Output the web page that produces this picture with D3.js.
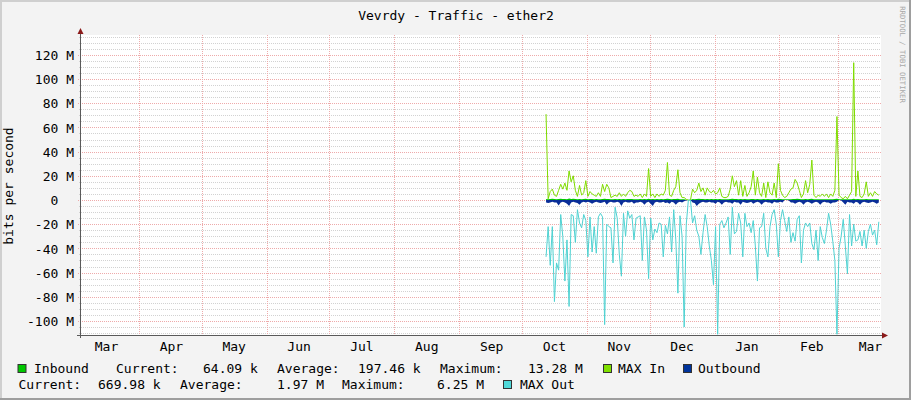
<!DOCTYPE html>
<html><head><meta charset="utf-8">
<script src="https://cdn.jsdelivr.net/npm/d3@7"></script>
<style>
html,body{margin:0;padding:0;background:#f3f3f3;}
svg{display:block;}
text{font-family:"DejaVu Sans Mono",monospace;}
</style>
</head><body>
<svg id="c" width="911" height="400"></svg>
<script>
// ---------------- data ----------------
const title = "Vevrdy - Traffic - ether2";
const yAxisTitle = "bits per second";
const watermark = "RRDTOOL / TOBI OETIKER";
const monthLabels = ["Mar","Apr","May","Jun","Jul","Aug","Sep","Oct","Nov","Dec","Jan","Feb","Mar"];
const yTickValues = [-100,-80,-60,-40,-20,0,20,40,60,80,100,120];
const yTickLabels = ["-100 M","-80 M","-60 M","-40 M","-20 M","0","20 M","40 M","60 M","80 M","100 M","120 M"];
const seriesNames = ["Inbound","MAX In","Outbound","MAX Out"];
const statLabels = ["Current:","Average:","Maximum:"];
const inboundStats = ["64.09 k","197.46 k","13.28 M"];
const outboundStats = ["669.98 k","1.97 M","6.25 M"];
const dataStart = "2014-10-12T12:00:00Z";   // one value per day from here
// values in Mbit/s
const maxIn = [
 71,1,7,9,4,3,8,13,9,14,8,24,15,20,8,3,12,4,6,16,
 3,7,5,4,3,6,3,13,7,13,10,2,3,4,3,6,3,5,3,6,
 8,7,3,4,3,5,2,5,3,26,3,5,2,5,3,5,4,8,31,4,
 3,8,11,25,6,2,2,0.5,0,0,9,6,8,14,7,10,4,10,7,6,
 8,5,6,10,3,2,2,3,9,20,11,16,4,16,3,12,3,6,11,24,
 4,19,6,3,14,2,15,6,4,14,2,30,8,4,2,3,6,9,10,17,
 14,8,2,5,16,6,13,33,4,2,4,3,5,3,5,2,5,3,8,69,
 4,2,1,3,1,4,7,113.5,3,24,3,2,5,15,3,6,3,7,5,4];
const maxOut = [
 -47,-22,-54,-22,-84,-52,-58,-12,-30,-67,-33,-88,-12,-13,-35,-8,-19,-23,-12,-17,
 -47,-14,-43,-22,-44,-14,-11,-14,-103,-20,-22,-23,-52,-6,-15,-45,-63,-11,-30,-9,
 -15,-12,-33,-15,-14,-13,-50,-14,-25,-65,-15,-33,-24,-27,-19,-20,-47,-21,-28,-14,
 -43,-8,-33,-77,-13,-30,-105,-20,0,0,-19,-13,-25,-30,-45,-27,-12,-22,-38,-50,
 -70,-22,-111,-20,-17,-23,-19,-14,-45,-6,-28,-26,-11,-19,-47,-11,-22,-19,-27,-17,
 -38,-67,-23,-22,-11,-40,-47,-22,-12,-8,-20,-47,-17,-8,-17,-26,-14,-35,-27,-34,
 -16,-13,-52,-25,-19,-22,-19,-36,-41,-25,-50,-22,-31,-36,-25,-11,-20,-34,-50,-111,
 -40,-30,-16,-38,-61,-12,-38,-20,-34,-33,-26,-38,-25,-40,-26,-20,-29,-25,-37,-18];
const outbound = [
 2,2.5,2,1.5,2,2,4.5,2,1.5,2,3,5,2,1.5,2,2.5,4,2,1.5,2,
 1.5,2,3,2,1.5,2,2.5,2,1.5,4,2,1.5,2,2,1.5,2,5,2,1.5,2,
 2,1.5,3,2,2,1.5,2,4,2,1.5,3,5,2,1.5,2,2,1.5,2.5,2,3,
 1.5,2,4,2,1.5,2,1,0.5,0,0,2,2.5,5,3,2,1.5,2,2,1.5,2,
 2,3,1.5,2,4,2,1.5,2,2,3,1.5,2,2,4,1.5,2,2.5,2,1.5,3,
 2,1.5,2,4,2,1.5,2,2,3,1.5,2,2,1.5,2,0,0,0.5,2,2,3,
 2,1.5,2,4,2,1.5,2,3,2,1.5,2,4,2,1.5,2,2,3,2,2,1.5,
 0,0.5,2,4,1.5,2,2,3,1.5,2,4,2,1.5,2,2.5,2,1.5,2,3,2];
const inbound = [
 0.8,0.6,0.8,1,0.8,0.6,0.8,1,0.8,0.8,0.6,1.2,0.8,1,0.8,0.6,0.8,0.6,0.8,1,
 0.6,0.8,0.8,0.6,0.8,0.6,0.6,0.8,1,0.8,0.8,0.6,0.6,0.8,0.6,0.8,0.6,0.8,0.6,0.8,
 0.8,0.8,0.6,0.6,0.6,0.8,0.6,0.8,0.6,1,0.6,0.8,0.6,0.8,0.6,0.8,0.6,0.8,1,0.8,
 0.6,0.8,0.8,1,0.6,0.6,0.6,0.2,0,0,0.8,0.6,0.8,1,0.8,0.8,0.6,0.8,0.6,0.8,
 0.6,0.8,0.6,0.8,0.6,0.6,0.6,0.6,0.8,1,0.8,0.8,0.6,0.8,0.6,0.8,0.6,0.6,0.8,0.8,
 0.6,0.8,0.6,0.6,0.8,0.6,0.8,0.6,0.6,0.8,0.6,1,0.8,0.6,0.6,0.6,0.6,0.6,0.8,0.8,
 1,0.8,0.6,0.6,0.8,0.6,0.8,1,0.6,0.6,0.6,0.6,0.6,0.6,0.6,0.6,0.6,0.6,0.8,1,
 0.6,0.6,0.6,0.6,0.6,0.6,0.6,1,0.6,0.8,0.6,0.6,0.6,0.8,0.6,0.6,0.6,0.6,0.6,0.6];

// ---------------- layout ----------------
const W = 911, H = 400;
const PL = 81, PR = 881, PT = 35, PB = 335;
const colors = {inbound:"#00c800", maxIn:"#7fdc00", outbound:"#0a2e98", maxOut:"#4fd2d2"};
const boxColors = ["#00c800","#80e000","#00349c","#50d8d8"];

const svg = d3.select("#c");

// background + 3D border
svg.append("rect").attr("width",W).attr("height",H).attr("fill","#f3f3f3");
svg.append("rect").attr("x",0).attr("y",0).attr("width",W).attr("height",2).attr("fill","#cfcfcf");
svg.append("rect").attr("x",0).attr("y",0).attr("width",2).attr("height",H).attr("fill","#cfcfcf");
svg.append("rect").attr("x",0).attr("y",H-2).attr("width",W).attr("height",2).attr("fill","#9e9e9e");
svg.append("rect").attr("x",W-2).attr("y",0).attr("width",2).attr("height",H).attr("fill","#9e9e9e");

// plot canvas
svg.append("rect").attr("x",PL).attr("y",PT).attr("width",PR-PL).attr("height",PB-PT).attr("fill","#ffffff");

const x = d3.scaleUtc()
  .domain([new Date("2014-03-04T07:00:00Z"), new Date("2015-03-21T13:00:00Z")])
  .range([PL, PR]);
const y = d3.scaleLinear().domain([-111.6, 136.4]).range([PB, PT]);

// grid
const grid = svg.append("g");
const minorVals = d3.range(-110, 136, 5).filter(v => v % 20 !== 0);
grid.selectAll("line.minor").data(minorVals).join("line")
  .attr("x1",PL-2).attr("x2",PR).attr("y1",d=>Math.round(y(d))+0.5).attr("y2",d=>Math.round(y(d))+0.5)
  .attr("stroke","#d2d2d2").attr("stroke-width",1).attr("stroke-dasharray","1,1");
grid.selectAll("line.major").data(yTickValues).join("line")
  .attr("x1",PL-3).attr("x2",PR).attr("y1",d=>Math.round(y(d))+0.5).attr("y2",d=>Math.round(y(d))+0.5)
  .attr("stroke","#eeaaaa").attr("stroke-width",1).attr("stroke-dasharray","1,1");
const monthStarts = d3.utcMonth.range(d3.utcMonth.ceil(x.domain()[0]), x.domain()[1]);
grid.selectAll("line.v").data(monthStarts).join("line")
  .attr("x1",d=>Math.round(x(d))+0.5).attr("x2",d=>Math.round(x(d))+0.5)
  .attr("y1",PT).attr("y2",PB+2)
  .attr("stroke","#eeaaaa").attr("stroke-width",1).attr("stroke-dasharray","1,1");

// series
const t0 = new Date(dataStart);
const dates = maxIn.map((_, i) => d3.utcDay.offset(t0, i));
svg.append("clipPath").attr("id","clip").append("rect")
  .attr("x",PL).attr("y",PT).attr("width",PR-PL).attr("height",PB-PT);
const series = svg.append("g").attr("clip-path","url(#clip)");

series.append("path").datum(inbound)
  .attr("d", d3.area().x((d,i)=>x(dates[i])).y0(y(0)).y1(d=>y(d)))
  .attr("fill", colors.inbound);
series.append("path").datum(outbound)
  .attr("d", d3.area().x((d,i)=>x(dates[i])).y0(y(0)).y1(d=>y(-d)))
  .attr("fill", colors.outbound);
series.append("path").datum(maxIn)
  .attr("d", d3.line().x((d,i)=>x(dates[i])).y(d=>y(d)))
  .attr("fill","none").attr("stroke",colors.maxIn).attr("stroke-width",1);
series.append("path").datum(maxOut)
  .attr("d", d3.line().x((d,i)=>x(dates[i])).y(d=>y(d)))
  .attr("fill","none").attr("stroke",colors.maxOut).attr("stroke-width",1);

// axes lines + arrows
const axisCol = "#5a5a5a", arrowCol = "#8b1a1a";
svg.append("line").attr("x1",PL-4).attr("x2",PR+1).attr("y1",PB+0.5).attr("y2",PB+0.5).attr("stroke",axisCol);
svg.append("line").attr("x1",PL-0.5).attr("x2",PL-0.5).attr("y1",PB+3).attr("y2",PT-4).attr("stroke",axisCol);
svg.append("path").attr("d",`M${PL-0.5},${PT-7} L${PL-3.5},${PT-1} L${PL+2.5},${PT-1} Z`).attr("fill",arrowCol);
svg.append("path").attr("d",`M${PR+7},${PB+0.5} L${PR+1},${PB-2.5} L${PR+1},${PB+3.5} Z`).attr("fill",arrowCol);

// y tick labels via d3 axis
const yAxis = d3.axisLeft(y).tickValues(yTickValues)
  .tickFormat((d,i)=> { const l = yTickLabels[i]; return l.includes("M") ? l : l + "  "; })
  .tickSize(0).tickPadding(0);
const ya = svg.append("g").attr("transform",`translate(${74},0)`).call(yAxis);
ya.select(".domain").remove();
ya.selectAll("text").attr("font-size",13).attr("font-family","DejaVu Sans Mono")
  .attr("fill","#000").attr("dy","0.36em").style("white-space","pre").attr("xml:space","preserve");

// x month labels
const monthMids = d3.utcMonth.range(d3.utcMonth.floor(x.domain()[0]), x.domain()[1])
  .map(d => new Date(+d + 15.5*864e5));
svg.append("g").selectAll("text").data(monthMids).join("text")
  .attr("x",d=>x(d)).attr("y",351).attr("text-anchor","middle")
  .attr("font-size",13).attr("fill","#000").text((d,i)=>monthLabels[i]);

// title
svg.append("text").attr("x",456).attr("y",19.5).attr("text-anchor","middle")
  .attr("font-size",13).attr("fill","#000").text(title);
// y axis title
svg.append("text").attr("transform","translate(13,186) rotate(-90)").attr("text-anchor","middle")
  .attr("font-size",13).attr("fill","#000").text(yAxisTitle);
// watermark
svg.append("text").attr("transform","translate(899.5,54.5) rotate(90)").attr("text-anchor","middle")
  .attr("font-size",7.3).attr("fill","#a8a8a8").text(watermark);

// legend
const lg = svg.append("g").attr("font-size",13).attr("fill","#000");
function box(x0, baseline, col){
  lg.append("rect").attr("x",x0+0.5).attr("y",baseline-8.5).attr("width",8).attr("height",8)
    .attr("fill",col).attr("stroke","#333").attr("stroke-width",1);
}
function txt(x0, baseline, s){
  lg.append("text").attr("x",x0).attr("y",baseline).text(s);
}
const b1 = 373, b2 = 389;
box(17.5, b1, boxColors[0]); txt(34, b1, seriesNames[0]);
txt(116, b1, statLabels[0]); txt(203, b1, inboundStats[0]);
txt(277, b1, statLabels[1]); txt(358, b1, inboundStats[1]);
txt(440, b1, statLabels[2]); txt(528, b1, inboundStats[2]);
box(603, b1, boxColors[1]); txt(618, b1, seriesNames[1]);
box(683, b1, boxColors[2]); txt(698, b1, seriesNames[2]);
txt(18.5, b2, statLabels[0]); txt(98, b2, outboundStats[0]);
txt(180, b2, statLabels[1]); txt(277, b2, outboundStats[1]);
txt(342, b2, statLabels[2]); txt(437, b2, outboundStats[2]);
box(503, b2, boxColors[3]); txt(520, b2, seriesNames[3]);
</script>
</body></html>
